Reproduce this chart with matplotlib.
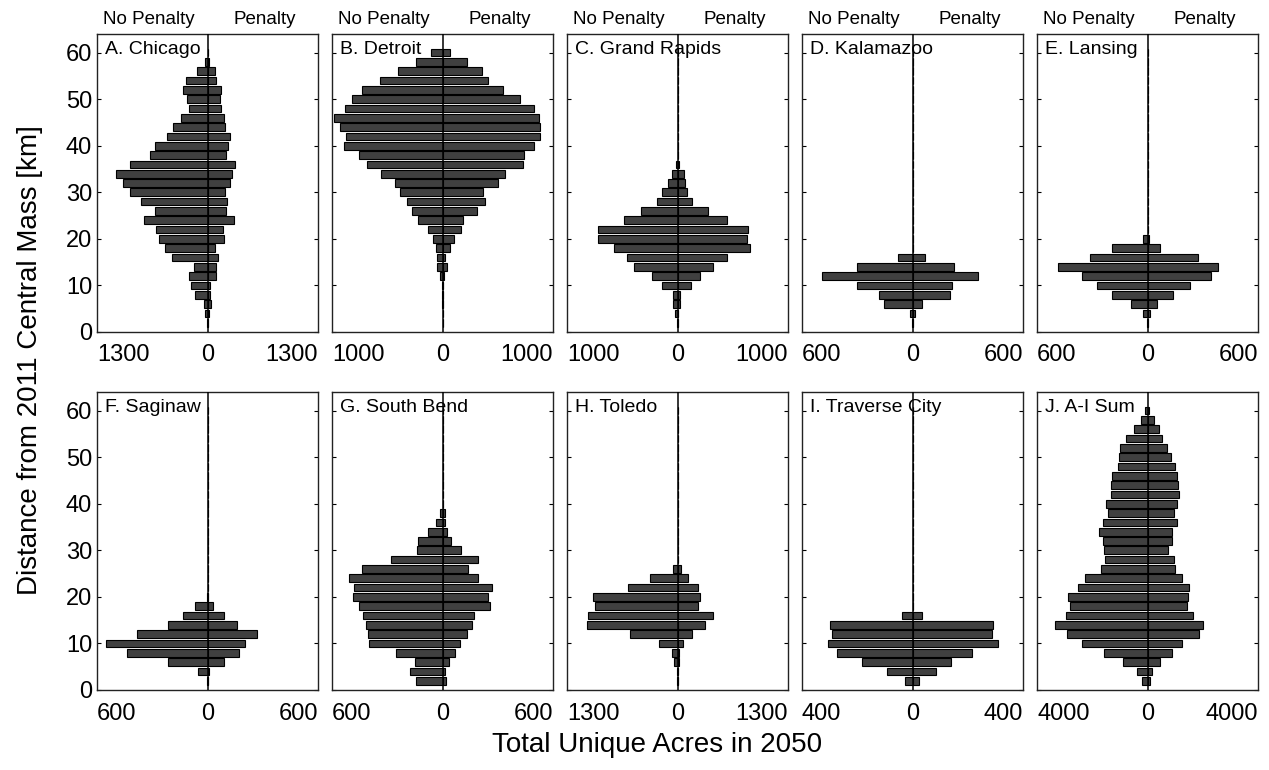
import matplotlib
matplotlib.use("Agg")
import matplotlib.pyplot as plt

plt.rcParams['font.family'] = ['Liberation Sans', 'DejaVu Sans']

# bin centres, km from 2011 central mass
dist_km = [2, 4, 6, 8, 10, 12, 14, 16, 18, 20, 22, 24, 26, 28, 30,
           32, 34, 36, 38, 40, 42, 44, 46, 48, 50, 52, 54, 56, 58, 60]

titles = ["A. Chicago", "B. Detroit", "C. Grand Rapids", "D. Kalamazoo", "E. Lansing",
          "F. Saginaw", "G. South Bend", "H. Toledo", "I. Traverse City", "J. A-I Sum"]
x_limits = [1300, 1000, 1000, 600, 600, 600, 600, 1300, 400, 4000]

# acres, one value per bin (2..60 km)
chicago_nopen = [5, 27, 39, 144, 199, 214, 156, 413, 499, 573, 604, 745, 612, 780, 909,
                 998, 1072, 912, 679, 620, 472, 409, 312, 214, 242, 292, 253, 121, 35, 0]
chicago_pen = [5, 20, 39, 27, 27, 97, 105, 129, 90, 191, 187, 308, 222, 230, 203,
               261, 285, 320, 222, 246, 269, 211, 191, 164, 144, 164, 105, 86, 20, 0]

detroit_nopen = [0, 0, 2, 3, 6, 27, 52, 48, 61, 85, 133, 221, 273, 324, 382,
                 427, 554, 685, 754, 891, 876, 927, 982, 882, 818, 724, 564, 400, 236, 100]
detroit_pen = [0, 0, 2, 3, 6, 18, 42, 27, 70, 106, 167, 185, 315, 388, 364,
               506, 564, 730, 739, 824, 879, 885, 873, 824, 700, 545, 415, 358, 218, 64]

grand_rapids_nopen = [6, 21, 39, 45, 138, 234, 390, 459, 573, 723, 723, 486, 330, 186, 144,
                      84, 51, 12, 0, 0, 0, 0, 0, 0, 0, 0, 0, 0, 0, 0]
grand_rapids_pen = [3, 6, 27, 27, 120, 207, 318, 447, 660, 633, 642, 444, 279, 132, 90,
                    66, 57, 12, 0, 0, 0, 0, 0, 0, 0, 0, 0, 0, 0, 0]

kalamazoo_nopen = [5, 13, 153, 182, 300, 491, 300, 78, 0, 0, 0, 0, 0, 0, 0,
                   0, 0, 0, 0, 0, 0, 0, 0, 0, 0, 0, 0, 0, 0, 0]
kalamazoo_pen = [3, 13, 51, 206, 217, 357, 227, 67, 0, 0, 0, 0, 0, 0, 0,
                 0, 0, 0, 0, 0, 0, 0, 0, 0, 0, 0, 0, 0, 0, 0]

lansing_nopen = [5, 25, 87, 191, 274, 354, 487, 314, 193, 25, 0, 0, 0, 0, 0,
                 0, 0, 0, 0, 0, 0, 0, 0, 0, 0, 0, 0, 0, 0, 0]
lansing_pen = [5, 13, 52, 139, 229, 345, 383, 274, 69, 9, 0, 0, 0, 0, 0,
               0, 0, 0, 0, 0, 0, 0, 0, 0, 0, 0, 0, 0, 0, 0]

saginaw_nopen = [2, 49, 215, 437, 551, 384, 217, 132, 67, 3, 0, 0, 0, 0, 0,
                 0, 0, 0, 0, 0, 0, 0, 0, 0, 0, 0, 0, 0, 0, 0]
saginaw_pen = [2, 9, 87, 171, 204, 271, 162, 88, 29, 3, 0, 0, 0, 0, 0,
               0, 0, 0, 0, 0, 0, 0, 0, 0, 0, 0, 0, 0, 0, 0]

south_bend_nopen = [144, 176, 151, 253, 398, 402, 413, 434, 451, 487, 480, 507, 436, 280, 140,
                    133, 80, 35, 13, 0, 0, 0, 0, 0, 0, 0, 0, 0, 0, 0]
south_bend_pen = [20, 15, 36, 69, 93, 135, 162, 171, 260, 247, 269, 191, 140, 193, 98,
                  45, 25, 16, 13, 0, 0, 0, 0, 0, 0, 0, 0, 0, 0, 0]

toledo_nopen = [3, 10, 39, 66, 222, 553, 1068, 1049, 971, 990, 577, 320, 51, 0, 0,
                0, 0, 0, 0, 0, 0, 0, 0, 0, 0, 0, 0, 0, 0, 0]
toledo_pen = [2, 5, 12, 20, 62, 168, 327, 417, 242, 269, 238, 121, 47, 0, 0,
              0, 0, 0, 0, 0, 0, 0, 0, 0, 0, 0, 0, 0, 0, 0]

traverse_nopen = [26, 93, 182, 274, 307, 292, 297, 37, 0, 0, 0, 0, 0, 0, 0,
                  0, 0, 0, 0, 0, 0, 0, 0, 0, 0, 0, 0, 0, 0, 0]
traverse_pen = [24, 85, 138, 214, 308, 286, 291, 35, 0, 0, 0, 0, 0, 0, 0,
                0, 0, 0, 0, 0, 0, 0, 0, 0, 0, 0, 0, 0, 0, 0]

sum_nopen = [205, 397, 890, 1576, 2382, 2923, 3356, 2947, 2815, 2863, 2502, 2274, 1696, 1552, 1564,
             1624, 1744, 1624, 1432, 1492, 1323, 1335, 1275, 1083, 1047, 998, 794, 505, 253, 96]
sum_pen = [84, 180, 445, 890, 1263, 1865, 2021, 1660, 1432, 1468, 1504, 1263, 1011, 962, 758,
           890, 902, 1071, 974, 1071, 1155, 1107, 1071, 986, 842, 710, 529, 433, 253, 72]

no_penalty = [chicago_nopen, detroit_nopen, grand_rapids_nopen, kalamazoo_nopen, lansing_nopen,
              saginaw_nopen, south_bend_nopen, toledo_nopen, traverse_nopen, sum_nopen]
penalty = [chicago_pen, detroit_pen, grand_rapids_pen, kalamazoo_pen, lansing_pen,
           saginaw_pen, south_bend_pen, toledo_pen, traverse_pen, sum_pen]

W, H = 1269, 770
fig = plt.figure(figsize=(W / 100, H / 100), dpi=100)

col_left = [97, 332, 567, 802, 1037]
row_top = [34, 392]
ax_w, ax_h = 221, 298

for i in range(10):
    r, c = divmod(i, 5)
    ax = fig.add_axes([col_left[c] / W, 1 - (row_top[r] + ax_h) / H, ax_w / W, ax_h / H])
    lim = x_limits[i]
    ax.barh(dist_km, [-v for v in no_penalty[i]], height=1.65, color="#404040",
            edgecolor="black", linewidth=0.8)
    ax.barh(dist_km, penalty[i], height=1.65, color="#404040",
            edgecolor="black", linewidth=0.8)
    ax.axvline(0, color="black", lw=1.1, zorder=3)
    ax.set_xlim(-lim, lim)
    ax.set_ylim(0, 64)
    ax.set_yticks([0, 10, 20, 30, 40, 50, 60])
    ax.tick_params(axis="y", direction="in", length=3, right=True, labelsize=17)
    if c != 0:
        ax.set_yticklabels([])
    ax.set_xticks([-lim, 0, lim])
    ax.set_xticklabels([str(lim), "0", str(lim)], fontsize=17)
    ax.tick_params(axis="x", length=0, pad=9)
    lbls = ax.get_xticklabels()
    lbls[0].set_ha("left")
    lbls[2].set_ha("right")
    for s in ax.spines.values():
        s.set_linewidth(1.0)
        s.set_color("#222222")
    ax.text(0.036, 0.975, titles[i], transform=ax.transAxes, ha="left", va="top", fontsize=14)
    if r == 0:
        ax.text(0.235, 1.02, "No Penalty", transform=ax.transAxes, ha="center", va="bottom", fontsize=13.5)
        ax.text(0.757, 1.02, "Penalty", transform=ax.transAxes, ha="center", va="bottom", fontsize=13.5)

fig.text(30 / W, 1 - 360 / H, "Distance from 2011 Central Mass [km]", rotation=90,
         ha="center", va="center", fontsize=20)
fig.text(657 / W, 1 - 745 / H, "Total Unique Acres in 2050", ha="center", va="center", fontsize=20)

fig.savefig("out.png", dpi=100)
